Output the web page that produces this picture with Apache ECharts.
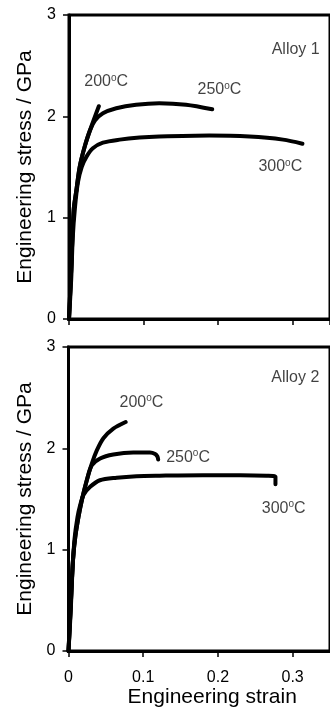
<!DOCTYPE html>
<html>
<head>
<meta charset="utf-8">
<script src="https://cdn.jsdelivr.net/npm/echarts@6/dist/echarts.min.js"></script>
<style>
html,body{margin:0;padding:0;background:#fff;}
#c{width:330px;height:716px;}
</style>
</head>
<body>
<div id="c"></div>
<script>
// ---- data ----
const yTicks = [0, 1, 2, 3];
const xTickLabels = ['0', '0.1', '0.2', '0.3'];
const xAxisTitle = 'Engineering strain';
const yAxisTitle = 'Engineering stress / GPa';

const alloy1_200 = [[0,0],[0.003,0.5],[0.0063,1.08],[0.0099,1.27],[0.0143,1.50],[0.021,1.70],[0.030,1.90],[0.040,2.10]];
const alloy1_250 = [[0,0],[0.003,0.5],[0.0063,1.08],[0.0099,1.27],[0.0143,1.50],[0.021,1.70],[0.028,1.86],[0.035,1.96],[0.0455,2.03],[0.0634,2.08],[0.090,2.115],[0.121,2.13],[0.157,2.115],[0.192,2.07]];
const alloy1_300 = [[0,0],[0.003,0.4],[0.005,0.8],[0.008,1.1],[0.012,1.35],[0.017,1.5],[0.0233,1.60],[0.032,1.685],[0.0455,1.74],[0.068,1.77],[0.0946,1.79],[0.121,1.80],[0.188,1.81],[0.242,1.80],[0.287,1.77],[0.313,1.73]];

const alloy2_200 = [[0,0],[0.003,0.45],[0.006,0.9],[0.009,1.12],[0.0133,1.32],[0.0179,1.49],[0.0245,1.685],[0.0312,1.85],[0.0379,1.98],[0.0467,2.10],[0.060,2.195],[0.0765,2.26]];
const alloy2_250 = [[0,0],[0.003,0.45],[0.006,0.9],[0.009,1.12],[0.0133,1.32],[0.0179,1.49],[0.0245,1.685],[0.031,1.83],[0.0423,1.90],[0.060,1.94],[0.0867,1.96],[0.109,1.96],[0.116,1.945],[0.119,1.92],[0.12,1.89]];
const alloy2_300 = [[0,0],[0.003,0.4],[0.005,0.75],[0.008,1.1],[0.012,1.32],[0.016,1.45],[0.020,1.54],[0.029,1.62],[0.042,1.685],[0.0645,1.71],[0.091,1.725],[0.122,1.73],[0.18,1.735],[0.23,1.735],[0.265,1.73],[0.277,1.72],[0.277,1.645]];

// annotations: [x, y, text]
const notes1 = [[0.304, 2.66, 'Alloy 1'], [0.0498, 2.34, '200|C'], [0.2017, 2.26, '250|C'], [0.2834, 1.50, '300|C']];
const notes2 = [[0.3036, 2.70, 'Alloy 2'], [0.0976, 2.455, '200|C'], [0.160, 1.91, '250|C'], [0.288, 1.41, '300|C']];

// ---- chart ----
const FONT = 'Liberation Sans, Arial, sans-serif';
const chart = echarts.init(document.getElementById('c'), null, {renderer: 'canvas'});

function xAxisCfg(gridIndex, showLabels) {
  return {
    type: 'value', gridIndex, min: 0, max: 0.35, interval: 0.1,
    axisLine: {show: true, onZero: false, lineStyle: {color: '#000', width: 3}},
    axisTick: {show: true, length: 6, lineStyle: {color: '#000', width: 1.5}},
    splitLine: {show: false},
    axisLabel: {
      show: showLabels, showMaxLabel: false, margin: 19,
      color: '#000', fontSize: 16, fontFamily: FONT,
      formatter: v => { const i = Math.round(v * 10); return i < xTickLabels.length ? xTickLabels[i] : ''; }
    },
    name: showLabels ? xAxisTitle : '', nameLocation: 'middle', nameGap: 33,
    nameTextStyle: {color: '#000', fontSize: 21, fontFamily: FONT, padding: [0, 0, 0, 26]}
  };
}
function yAxisCfg(gridIndex) {
  return {
    type: 'value', gridIndex, min: 0, max: 3, interval: 1,
    axisLine: {show: true, onZero: false, lineStyle: {color: '#000', width: 3}},
    axisTick: {show: true, length: 6, lineStyle: {color: '#000', width: 1.5}},
    splitLine: {show: false},
    axisLabel: {
      margin: 13, color: '#000', fontSize: 16, fontFamily: FONT,
      formatter: v => yTicks.includes(v) ? String(v) : ''
    },
    name: yAxisTitle, nameLocation: 'middle', nameGap: 32, nameRotate: 90,
    nameTextStyle: {color: '#000', fontSize: 21, fontFamily: FONT}
  };
}
function curve(data, idx) {
  return {
    type: 'line', xAxisIndex: idx, yAxisIndex: idx, data,
    showSymbol: false, symbol: 'none', smooth: 0.3,
    lineStyle: {color: '#000', width: 4, cap: 'round', join: 'round'},
    silent: true
  };
}
function notesSeries(notes, idx) {
  return {
    type: 'scatter', xAxisIndex: idx, yAxisIndex: idx, symbolSize: 0,
    data: notes.map(n => ({value: [n[0], n[1]], name: n[2]})),
    silent: true,
    label: {
      show: true, position: 'inside', color: '#000', fontFamily: FONT,
      formatter: p => {
        const t = p.name;
        if (t.indexOf('|') >= 0) { const parts = t.split('|'); return '{n|' + parts[0] + '}{s|o}{n|' + parts[1] + '}'; }
        return '{n|' + t + '}';
      },
      rich: {
        n: {fontSize: 16, lineHeight: 18, fontFamily: FONT, color: '#111'},
        s: {fontSize: 10, lineHeight: 10, verticalAlign: 'top', fontFamily: FONT, color: '#111'}
      }
    }
  };
}

chart.setOption({
  animation: false,
  backgroundColor: '#fff',
  grid: [
    {left: 69, top: 15, width: 261.5, height: 304, show: true, borderColor: '#000', borderWidth: 3, containLabel: false},
    {left: 68.5, top: 347, width: 262.5, height: 304, show: true, borderColor: '#000', borderWidth: 3, containLabel: false}
  ],
  xAxis: [xAxisCfg(0, false), xAxisCfg(1, true)],
  yAxis: [yAxisCfg(0), yAxisCfg(1)],
  series: [
    curve(alloy1_200, 0), curve(alloy1_250, 0), curve(alloy1_300, 0),
    curve(alloy2_200, 1), curve(alloy2_250, 1), curve(alloy2_300, 1),
    notesSeries(notes1, 0), notesSeries(notes2, 1)
  ]
});
</script>
</body>
</html>
